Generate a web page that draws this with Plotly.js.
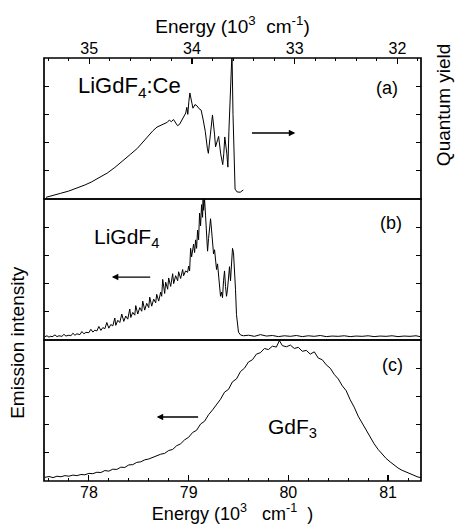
<!DOCTYPE html>
<html>
<head>
<meta charset="utf-8">
<script src="https://cdn.plot.ly/plotly-3.0.1.min.js"></script>
<style>html,body{margin:0;padding:0;background:#fff}#chart{width:455px;height:527px}</style>
</head>
<body>
<div id="chart"></div>
<script>
// Panel (a): LiGdF4:Ce quantum yield vs excitation energy (top axis, 10^3 cm^-1)
const aEnergy = [35.42,35.35,35.28,35.20,35.12,35.04,34.98,34.90,34.82,34.75,34.68,34.60,34.53,34.47,34.43,34.38,34.34,34.30,34.27,34.24,34.22,34.20,34.18,34.16,34.14,34.12,34.10,34.08,34.06,34.05,34.04,34.03,34.02,34.00,33.99,33.97,33.95,33.93,33.91,33.89,33.87,33.85,33.84,33.82,33.80,33.78,33.77,33.75,33.74,33.72,33.70,33.69,33.68,33.66,33.65,33.64,33.62,33.61,33.60,33.59,33.58,33.56,33.53,33.50];
const aYield  = [0.06,0.12,0.20,0.28,0.38,0.50,0.60,0.76,0.93,1.12,1.35,1.58,1.80,2.05,2.25,2.42,2.55,2.62,2.68,2.72,2.80,2.74,2.82,2.70,2.60,2.65,2.78,2.92,3.05,3.25,3.00,3.45,3.76,3.40,3.22,3.35,3.30,3.20,3.15,2.80,2.40,1.80,1.62,2.30,2.98,2.30,1.85,2.10,2.22,1.60,1.22,1.60,2.20,1.60,1.13,2.40,4.00,5.20,3.00,1.00,0.35,0.25,0.24,0.32];

// Panel (b): LiGdF4 emission vs energy (bottom axis)
const bEnergy = [77.56,77.58,77.60,77.62,77.63,77.66,77.68,77.70,77.73,77.75,77.77,77.80,77.82,77.84,77.86,77.88,77.91,77.93,77.95,77.97,78.00,78.02,78.04,78.06,78.08,78.10,78.12,78.14,78.16,78.18,78.20,78.22,78.24,78.26,78.27,78.29,78.31,78.33,78.35,78.37,78.39,78.41,78.42,78.44,78.46,78.47,78.49,78.51,78.53,78.54,78.56,78.58,78.60,78.61,78.63,78.65,78.67,78.68,78.70,78.72,78.73,78.74,78.76,78.77,78.79,78.80,78.82,78.84,78.85,78.87,78.89,78.90,78.92,78.94,78.95,78.97,78.99,79.00,79.01,79.02,79.03,79.05,79.06,79.07,79.08,79.09,79.10,79.11,79.12,79.13,79.14,79.145,79.15,79.16,79.17,79.18,79.19,79.20,79.21,79.22,79.23,79.24,79.25,79.26,79.27,79.28,79.29,79.30,79.31,79.32,79.33,79.34,79.35,79.36,79.37,79.38,79.39,79.40,79.41,79.42,79.43,79.44,79.45,79.46,79.47,79.48,79.49,79.50,79.52,79.55,79.60,79.66,79.72,79.78,79.84,79.90,79.96,80.02,80.08,80.14,80.20,80.26,80.32,80.38,80.44,80.50,80.56,80.62,80.68,80.74,80.80,80.86,80.92,80.98,81.04,81.10,81.16,81.22,81.28,81.32];
const bIntensity = [0.12,0.15,0.10,0.14,0.11,0.18,0.12,0.15,0.13,0.20,0.14,0.17,0.15,0.24,0.17,0.22,0.19,0.30,0.22,0.27,0.26,0.38,0.28,0.35,0.32,0.48,0.34,0.44,0.40,0.62,0.42,0.55,0.50,0.78,0.52,0.70,0.62,0.92,0.66,0.85,0.74,1.10,0.80,0.98,0.88,1.22,0.92,1.15,1.02,1.38,1.06,1.30,1.15,1.52,1.20,1.45,1.32,1.62,1.38,1.70,1.55,2.15,1.65,2.05,1.80,2.20,1.90,2.35,2.00,2.28,2.10,2.42,2.18,2.50,2.28,2.45,2.40,2.62,2.45,3.25,2.95,3.40,3.10,3.55,3.25,3.90,3.55,4.50,4.05,4.80,4.35,5.05,4.60,5.00,4.40,3.60,3.15,3.60,4.10,4.30,3.90,3.40,3.05,3.20,2.85,2.50,2.70,2.30,1.80,1.55,1.70,1.50,2.10,2.45,1.90,1.55,1.80,2.40,2.60,2.10,2.80,3.25,3.10,2.60,1.80,0.90,0.45,0.28,0.18,0.15,0.17,0.13,0.19,0.14,0.16,0.12,0.15,0.13,0.16,0.12,0.15,0.13,0.16,0.12,0.14,0.13,0.15,0.12,0.14,0.13,0.15,0.12,0.14,0.13,0.15,0.12,0.14,0.13,0.15,0.12];

// Panel (c): GdF3 emission vs energy (bottom axis)
const cEnergy = [77.56,77.60,77.64,77.68,77.72,77.76,77.80,77.84,77.88,77.92,77.96,78.00,78.04,78.08,78.12,78.16,78.20,78.24,78.28,78.32,78.36,78.40,78.44,78.48,78.52,78.56,78.60,78.64,78.68,78.72,78.76,78.80,78.84,78.88,78.92,78.96,79.00,79.04,79.08,79.12,79.16,79.20,79.24,79.28,79.32,79.36,79.40,79.44,79.48,79.52,79.56,79.60,79.64,79.68,79.72,79.76,79.80,79.84,79.88,79.91,79.94,79.98,80.02,80.06,80.10,80.14,80.18,80.22,80.26,80.30,80.34,80.38,80.42,80.46,80.50,80.54,80.58,80.62,80.66,80.70,80.74,80.78,80.82,80.86,80.90,80.94,80.98,81.02,81.06,81.10,81.14,81.18,81.22,81.26,81.30,81.33];
const cIntensity = [0.13,0.16,0.12,0.17,0.15,0.19,0.17,0.21,0.19,0.23,0.22,0.27,0.26,0.31,0.30,0.37,0.35,0.42,0.41,0.49,0.48,0.57,0.58,0.66,0.68,0.75,0.78,0.84,0.88,0.95,0.98,1.08,1.12,1.25,1.32,1.46,1.55,1.72,1.80,2.02,2.12,2.35,2.52,2.72,2.90,3.15,3.25,3.52,3.62,3.88,4.00,4.22,4.30,4.50,4.55,4.70,4.66,4.78,4.75,4.98,4.80,4.76,4.82,4.70,4.74,4.60,4.63,4.50,4.58,4.36,4.30,4.12,4.00,3.78,3.62,3.38,3.20,2.88,2.62,2.30,2.05,1.78,1.55,1.32,1.12,0.95,0.80,0.68,0.56,0.46,0.38,0.32,0.25,0.19,0.14,0.12];

const bottomTicks = [78, 79, 80, 81];
const topTicks = [35, 34, 33, 32];

const FONT = 'Liberation Sans, Arial, Helvetica, sans-serif';
const lineStyle = {color: '#000', width: 1};

const traces = [
  {x: aEnergy, y: aYield, xaxis: 'x2', yaxis: 'y3', type: 'scatter', mode: 'lines', line: lineStyle, hoverinfo: 'skip'},
  {x: bEnergy, y: bIntensity, xaxis: 'x', yaxis: 'y2', type: 'scatter', mode: 'lines', line: lineStyle, hoverinfo: 'skip'},
  {x: cEnergy, y: cIntensity, xaxis: 'x', yaxis: 'y', type: 'scatter', mode: 'lines', line: lineStyle, hoverinfo: 'skip'}
];

const yCommon = {
  range: [0, 5], dtick: 1, tick0: 0, showticklabels: false, ticks: 'inside', ticklen: 5, tickwidth: 1.2,
  tickcolor: '#000', showgrid: false, zeroline: false, showline: false, mirror: 'ticks', fixedrange: true
};

const frame = (y0, y1) => ({type: 'rect', xref: 'paper', yref: 'paper', x0: 0, x1: 1, y0: y0, y1: y1,
  line: {color: '#000', width: 1.7}, fillcolor: 'rgba(0,0,0,0)', layer: 'above'});

const layout = {
  width: 455, height: 527,
  margin: {l: 44, r: 34, t: 58, b: 46},
  paper_bgcolor: '#fff', plot_bgcolor: '#fff',
  showlegend: false,
  font: {family: FONT, size: 15, color: '#000'},
  xaxis: {
    anchor: 'y', side: 'bottom', range: [77.55, 81.33], tickvals: bottomTicks, ticktext: bottomTicks.map(String),
    ticks: 'inside', ticklen: 6, tickwidth: 1.2, tickcolor: '#000',
    minor: {dtick: 0.2, tick0: 78, ticks: 'inside', ticklen: 3, tickwidth: 1, tickcolor: '#000', showgrid: false},
    showgrid: false, zeroline: false, showline: false,
    tickfont: {size: 16},
    title: {text: 'Energy (10<sup>3</sup>   cm<sup>-1</sup>  )', font: {size: 18}, standoff: 3}
  },
  xaxis2: {
    anchor: 'y3', side: 'top', overlaying: 'x', range: [35.44, 31.77], tickvals: topTicks, ticktext: topTicks.map(String),
    ticks: 'inside', ticklen: 6, tickwidth: 1.2, tickcolor: '#000',
    minor: {dtick: 0.2, tick0: 32, ticks: 'inside', ticklen: 3, tickwidth: 1, tickcolor: '#000', showgrid: false},
    showgrid: false, zeroline: false, showline: false,
    tickfont: {size: 16},
    title: {text: 'Energy (10<sup>3</sup>  cm<sup>-1</sup>)', font: {size: 19}, standoff: 1}
  },
  yaxis: Object.assign({}, yCommon, {domain: [0, 1/3], anchor: 'x'}),
  yaxis2: Object.assign({}, yCommon, {domain: [1/3, 2/3], anchor: 'x'}),
  yaxis3: Object.assign({}, yCommon, {domain: [2/3, 1], anchor: 'x2'}),
  shapes: [frame(0, 1/3), frame(1/3, 2/3), frame(2/3, 1)],
  annotations: [
    {xref: 'x', yref: 'y3', x: 78.41, y: 3.97, text: 'LiGdF<sub>4</sub>:Ce', showarrow: false, font: {size: 22}},
    {xref: 'x', yref: 'y3', x: 80.99, y: 3.94, text: '(a)', showarrow: false, font: {size: 18}},
    {xref: 'x', yref: 'y3', x: 80.07, y: 2.34, ax: 79.62, ay: 2.34, axref: 'x', ayref: 'y3', text: '', showarrow: true, arrowhead: 2, arrowsize: 1, arrowwidth: 1.3, arrowcolor: '#000'},
    {xref: 'x', yref: 'y2', x: 78.38, y: 3.62, text: 'LiGdF<sub>4</sub>', showarrow: false, font: {size: 21}},
    {xref: 'x', yref: 'y2', x: 81.03, y: 4.15, text: '(b)', showarrow: false, font: {size: 18}},
    {xref: 'x', yref: 'y2', x: 78.23, y: 2.23, ax: 78.63, ay: 2.23, axref: 'x', ayref: 'y2', text: '', showarrow: true, arrowhead: 2, arrowsize: 1, arrowwidth: 1.3, arrowcolor: '#000'},
    {xref: 'x', yref: 'y', x: 81.04, y: 4.11, text: '(c)', showarrow: false, font: {size: 18}},
    {xref: 'x', yref: 'y', x: 78.68, y: 2.27, ax: 79.11, ay: 2.27, axref: 'x', ayref: 'y', text: '', showarrow: true, arrowhead: 2, arrowsize: 1, arrowwidth: 1.3, arrowcolor: '#000'},
    {xref: 'x', yref: 'y', x: 80.04, y: 1.88, text: 'GdF<sub>3</sub>', showarrow: false, font: {size: 21}},
    {xref: 'paper', yref: 'paper', x: -0.069, y: 0.329, text: 'Emission intensity', textangle: -90, showarrow: false, font: {size: 19}, xanchor: 'center', yanchor: 'middle'},
    {xref: 'paper', yref: 'paper', x: 1.06, y: 0.89, text: 'Quantum yield', textangle: -90, showarrow: false, font: {size: 19}, xanchor: 'center', yanchor: 'middle'}
  ]
};

Plotly.newPlot('chart', traces, layout, {displayModeBar: false, staticPlot: true});
</script>
</body>
</html>
